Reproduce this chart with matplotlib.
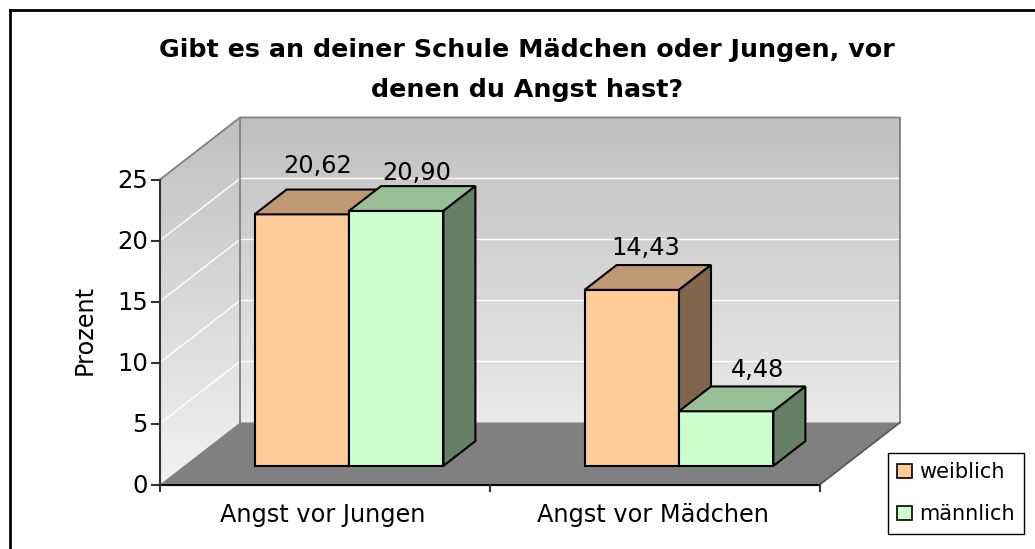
import numpy as np
import matplotlib
matplotlib.use("Agg")
import matplotlib.pyplot as plt
from matplotlib.patches import Polygon, Patch

# data
categories = ["Angst vor Jungen", "Angst vor Mädchen"]
series_names = ["weiblich", "männlich"]
weiblich = [20.62, 14.43]
maennlich = [20.90, 4.48]
yticks = [0, 5, 10, 15, 20, 25]
title_lines = ["Gibt es an deiner Schule Mädchen oder Jungen, vor",
               "denen du Angst hast?"]
ylabel = "Prozent"

front_colors = ["#FFCC99", "#CCFFCC"]
top_colors = ["#BF9973", "#99BF99"]
side_colors = ["#80664D", "#668066"]

# oblique projection, in figure pixels
X0, Y0 = 160, 484.5      # front left corner of the floor
CW = 330                 # width of one category
VS = 12.2                # pixels per percent
DX, DY = 80, -62         # offset for the full depth
VMAX = 25
BW = 0.286               # bar width in category units
D0, D1 = 0.3, 0.7        # depth range of the bars
# label nudges (px) for weiblich/männlich in each group
label_nudge = [[(0, -29), (5, -19)], [(-2, -22), (15, -22)]]

plt.rcParams['font.family'] = 'DejaVu Sans'


def proj(u, v, d=0.0):
    return X0 + u * CW + d * DX, Y0 - v * VS + d * DY


fig = plt.figure(figsize=(10.35, 5.49), dpi=100)
ax = fig.add_axes([0, 0, 1, 1])
ax.set_xlim(0, 1035)
ax.set_ylim(549, 0)
ax.axis('off')

ncat = len(categories)

# walls with vertical gradient
grad = np.linspace(0, 1, 256).reshape(-1, 1)
wall_cmap = matplotlib.colors.LinearSegmentedColormap.from_list(
    "wall", ["#C0C0C0", "#F2F2F2"])
top_y = proj(0, VMAX, 1)[1]
back = [proj(0, 0, 1), proj(ncat, 0, 1), proj(ncat, VMAX, 1), proj(0, VMAX, 1)]
side = [proj(0, 0, 0), proj(0, 0, 1), proj(0, VMAX, 1), proj(0, VMAX, 0)]
for poly in (back, side):
    patch = Polygon(poly, closed=True, facecolor='none', edgecolor='none')
    ax.add_patch(patch)
    im = ax.imshow(grad, cmap=wall_cmap, aspect='auto', origin='upper',
                   extent=(X0, proj(ncat, 0, 1)[0], Y0, top_y), zorder=1)
    im.set_clip_path(patch)

# floor
floor = [proj(0, 0, 0), proj(ncat, 0, 0), proj(ncat, 0, 1), proj(0, 0, 1)]
ax.add_patch(Polygon(floor, closed=True, facecolor='#808080',
                     edgecolor='none', zorder=2))

# gridlines on walls
for v in yticks[1:-1]:
    xa, ya = proj(0, v, 0)
    xb, yb = proj(0, v, 1)
    xc, yc = proj(ncat, v, 1)
    ax.plot([xa, xb, xc], [ya, yb, yc], color='white', lw=1, zorder=2)

# wall edges
edge = dict(color='#808080', lw=1.3, zorder=2)
ax.plot(*zip(proj(0, VMAX, 0), proj(0, VMAX, 1), proj(ncat, VMAX, 1),
             proj(ncat, 0, 1)), **edge)
ax.plot(*zip(proj(0, 0, 1), proj(0, VMAX, 1)), **edge)
ax.plot(*zip(proj(ncat, 0, 1), proj(ncat, 0, 0)), color='#555555', lw=1.2,
        zorder=2)

# axes lines and ticks
axis = dict(color='#333333', lw=1.5, zorder=6)
ax.plot(*zip(proj(0, 0, 0), proj(0, VMAX, 0)), **axis)
ax.plot(*zip(proj(0, 0, 0), proj(ncat, 0, 0)), color='black', lw=1.5, zorder=6)
for v in yticks:
    x, y = proj(0, v, 0)
    ax.plot([x - 8, x], [y, y], **axis)
    ax.text(x - 12, y + 8.75, str(v), ha='right', va='baseline',
            fontsize=17.5, zorder=7)
for i in range(ncat + 1):
    x, y = proj(i, 0, 0)
    ax.plot([x, x], [y, y + 6], **axis)
for i, c in enumerate(categories):
    x, y = proj(i + 0.5, 0, 0)
    ax.text(x - 2, 522, c, ha='center', va='baseline', fontsize=17.3, zorder=7)

ax.text(85, 330, ylabel, rotation=90, ha='center', va='center', fontsize=17.3)

# bars
values = [weiblich, maennlich]
for i in range(ncat):
    for j in range(len(values)):
        v = values[j][i]
        u0 = i + 0.5 - BW + j * BW
        u1 = u0 + BW
        front = [proj(u0, 0, D0), proj(u1, 0, D0), proj(u1, v, D0), proj(u0, v, D0)]
        top = [proj(u0, v, D0), proj(u1, v, D0), proj(u1, v, D1), proj(u0, v, D1)]
        rside = [proj(u1, 0, D0), proj(u1, 0, D1), proj(u1, v, D1), proj(u1, v, D0)]
        z = 3 + i * 2 + j
        for poly, col in ((front, front_colors[j]), (top, top_colors[j]),
                          (rside, side_colors[j])):
            ax.add_patch(Polygon(poly, closed=True, facecolor=col,
                                 edgecolor='black', lw=1.5, zorder=z,
                                 joinstyle='miter'))
        lx, ly = proj((u0 + u1) / 2, v, (D0 + D1) / 2)
        nx, ny = label_nudge[i][j]
        ax.text(lx + nx, ly + ny, ("%.2f" % v).replace('.', ','),
                ha='center', va='baseline', fontsize=17.3, zorder=10)

# title
ax.text(527, 57, title_lines[0], ha='center', va='baseline',
        fontsize=18.3, fontweight='bold')
ax.text(527, 97, title_lines[1], ha='center', va='baseline',
        fontsize=18.3, fontweight='bold')

# outer frame (only top and left are inside the picture)
ax.plot([9.5, 1035], [9.5, 9.5], color='black', lw=2, zorder=10)
ax.plot([9.5, 9.5], [9.5, 549], color='black', lw=2, zorder=10)

# legend
handles = [Patch(facecolor=front_colors[k], edgecolor='black', lw=1.2)
           for k in range(len(series_names))]
leg = ax.legend(handles, series_names, loc='upper left',
                bbox_to_anchor=(888, 453), bbox_transform=ax.transData,
                fontsize=15, frameon=True, fancybox=False, borderaxespad=0,
                handlelength=0.7, handleheight=0.7, handletextpad=0.33,
                borderpad=0.45, labelspacing=1.05)
leg.get_frame().set_edgecolor('black')
leg.get_frame().set_linewidth(1)
leg.get_frame().set_alpha(1)

fig.savefig("out.png", dpi=100)
